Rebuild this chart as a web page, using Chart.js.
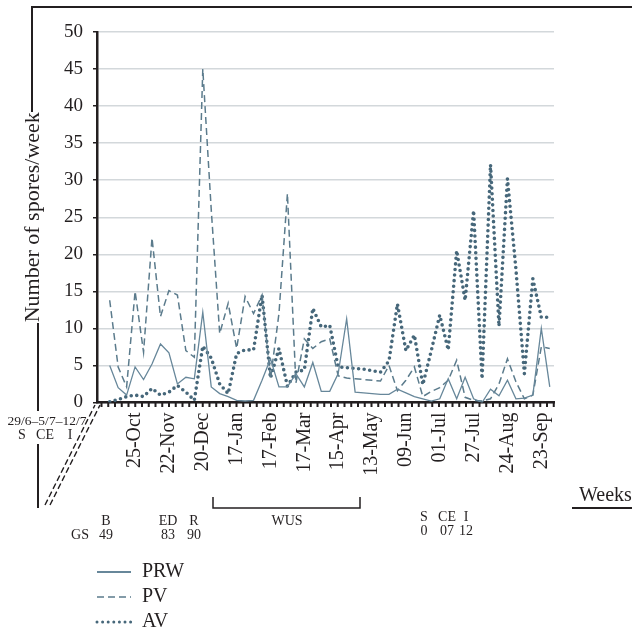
<!DOCTYPE html>
<html>
<head>
<meta charset="utf-8">
<script src="https://cdn.jsdelivr.net/npm/chart.js@4.4.1/dist/chart.umd.min.js"></script>
<style>
  html, body { margin: 0; padding: 0; background: #fff; }
</style>
</head>
<body>
<canvas id="sporesChart" width="632" height="633"></canvas>
<script>
// Weekly categories; the first one is the broken part of the axis (29/6-12/7), no data there
const weeks = [
  '', '', '', '', '25-Oct', '', '', '', '22-Nov', '', '', '', '20-Dec',
  '', '', '', '17-Jan', '', '', '', '17-Feb', '', '', '', '17-Mar',
  '', '', '', '15-Apr', '', '', '', '13-May', '', '', '', '09-Jun',
  '', '', '', '01-Jul', '', '', '', '27-Jul', '', '', '', '24-Aug',
  '', '', '', '23-Sep', ''
];

// Number of spores per week
const prw = [null,
  5.0, 2.0, 1.0, 4.8, 3.1, 5.2, 7.9, 6.7, 2.5, 3.4, 3.2, 12.2, 2.1, 1.2, 0.8, 0.3, 0.2, 0.3,
  3.0, 5.9, 2.1, 2.1, 3.9, 2.1, 5.4, 1.5, 1.5, 3.9, 11.3, 1.4, 1.3, 1.2, 1.1, 1.1, 1.8, 1.3,
  0.8, 0.5, 0.2, 0.5, 3.2, 0.5, 3.4, 0.5, 0.0, 1.8, 0.9, 3.0, 0.5, 0.6, 1.0, 10.0, 2.1];
const pv = [null,
  13.8, 4.8, 2.1, 15.0, 6.8, 22.2, 11.6, 15.1, 14.5, 7.0, 6.1, 45.0, 26.0, 9.3, 13.4, 7.3, 14.3, 12.0,
  14.5, 3.2, 12.0, 28.2, 2.6, 8.6, 7.3, 8.2, 8.6, 3.6, 3.3, 3.2, 3.1, 3.0, 2.9, 5.0, 1.6, 3.0,
  4.8, 0.8, 1.5, 2.0, 3.0, 5.7, 0.7, 0.3, 0.2, 0.5, 2.5, 5.9, 2.8, 0.5, 1.0, 7.5, 7.3];
const av = [null,
  0.1, 0.4, 0.8, 1.0, 0.8, 1.9, 1.0, 1.4, 2.3, 1.4, 0.3, 7.6, 6.0, 2.5, 1.2, 6.6, 7.1, 7.1,
  14.5, 3.3, 7.3, 2.2, 4.1, 4.4, 12.7, 10.2, 10.4, 4.8, 4.7, 4.6, 4.5, 4.3, 4.1, 5.6, 13.3, 7.0,
  9.1, 2.4, 7.0, 11.8, 7.1, 20.5, 13.8, 25.9, 3.2, 32.1, 10.3, 30.2, 18.0, 3.9, 16.7, 11.5, 11.5];

const ink = '#231f20';
const serif = "'Liberation Serif', 'Times New Roman', serif";

// notes under the axis: growth stages and phenology
function drawNotes(chart) {
  const ctx = chart.ctx;
  const a = chart.chartArea;
  ctx.save();
  ctx.strokeStyle = ink;
  ctx.fillStyle = ink;

  // ruler ticks on the x axis
  ctx.lineWidth = 2;
  ctx.beginPath();
  for (let x = a.left + 4.5; x <= a.right + 0.5; x += 6.75) {
    ctx.moveTo(x, a.bottom);
    ctx.lineTo(x, a.bottom + 4.5);
  }
  ctx.stroke();

  // frame at top / left
  ctx.lineWidth = 2;
  ctx.beginPath();
  ctx.moveTo(632, 7); ctx.lineTo(32, 7); ctx.lineTo(32, 112);
  ctx.moveTo(38, 323); ctx.lineTo(38, 411);
  ctx.moveTo(38, 444); ctx.lineTo(38, 508);
  ctx.stroke();

  // axis break
  ctx.lineWidth = 1.4;
  ctx.setLineDash([6, 3]);
  ctx.beginPath();
  ctx.moveTo(45, 505); ctx.lineTo(95, 405);
  ctx.moveTo(50, 505); ctx.lineTo(100, 405);
  ctx.stroke();
  ctx.setLineDash([]);

  ctx.textAlign = 'center';
  ctx.textBaseline = 'middle';
  ctx.font = '13.5px ' + serif;
  ctx.fillText('29/6\u20135/7\u201312/7', 47, 421);
  ctx.font = '14px ' + serif;
  ctx.fillText('S', 22, 435);
  ctx.fillText('CE', 45, 435);
  ctx.fillText('I', 70, 435);

  ctx.fillText('B', 106, 521);
  ctx.fillText('ED', 168, 521);
  ctx.fillText('R', 194, 521);
  ctx.fillText('WUS', 287, 521);
  ctx.fillText('GS', 80, 535);
  ctx.fillText('49', 106, 535);
  ctx.fillText('83', 168, 535);
  ctx.fillText('90', 194, 535);

  ctx.fillText('S', 424, 517);
  ctx.fillText('CE', 447, 517);
  ctx.fillText('I', 466, 517);
  ctx.fillText('0', 424, 531);
  ctx.fillText('07', 447, 531);
  ctx.fillText('12', 466, 531);

  // WUS bracket
  ctx.lineWidth = 1.5;
  ctx.beginPath();
  ctx.moveTo(213, 497); ctx.lineTo(213, 508); ctx.lineTo(360, 508); ctx.lineTo(360, 497);
  ctx.stroke();

  // axis name on the right
  ctx.textAlign = 'left';
  ctx.font = '20px ' + serif;
  ctx.fillText('Weeks', 579, 496);
  ctx.lineWidth = 2;
  ctx.beginPath();
  ctx.moveTo(572, 508); ctx.lineTo(632, 508);
  ctx.stroke();

  // legend, one row per series
  chart.data.datasets.forEach(function(ds, i) {
    const y = 572 + i * 25;
    ctx.strokeStyle = ds.borderColor;
    ctx.lineWidth = ds.legendWidth;
    ctx.lineCap = ds.borderCapStyle || 'butt';
    ctx.setLineDash(ds.borderDash || []);
    ctx.beginPath();
    ctx.moveTo(97, y); ctx.lineTo(131, y);
    ctx.stroke();
    ctx.setLineDash([]);
    ctx.fillStyle = ink;
    ctx.font = '20px ' + serif;
    ctx.fillText(ds.label, 142, y);
  });
  ctx.restore();
}

const chart = new Chart(document.getElementById('sporesChart'), {
  type: 'line',
  data: {
    labels: weeks,
    datasets: [{
      label: 'PRW',
      data: prw,
      borderColor: '#67879a',
      borderWidth: 1.3,
      legendWidth: 2,
      pointRadius: 0,
      tension: 0
    }, {
      label: 'PV',
      data: pv,
      borderColor: '#5b7b8c',
      borderWidth: 1.5,
      legendWidth: 1.5,
      borderDash: [7, 4],
      pointRadius: 0,
      tension: 0
    }, {
      label: 'AV',
      data: av,
      borderColor: '#46677a',
      borderWidth: 3.6,
      legendWidth: 3,
      borderDash: [0, 5.6],
      borderCapStyle: 'round',
      pointRadius: 0,
      tension: 0
    }]
  },
  options: {
    responsive: false,
    animation: false,
    devicePixelRatio: 1,
    layout: { padding: { top: 32, right: 78, left: 0, bottom: 0 } },
    plugins: {
      legend: { display: false },
      tooltip: { enabled: false }
    },
    scales: {
      x: {
        offset: true,
        grid: { display: true, drawOnChartArea: false, color: 'rgba(0,0,0,0)', tickLength: 4 },
        border: { color: ink, width: 2.5 },
        ticks: {
          autoSkip: false,
          maxRotation: 90,
          minRotation: 90,
          padding: 6,
          color: ink,
          font: { family: serif, size: 20 }
        },
        afterFit: function(scale) { scale.height = 230.5; }
      },
      y: {
        min: 0,
        max: 50,
        grid: { color: '#d3d8db', lineWidth: 1.5, tickColor: ink, tickLength: 4 },
        border: { color: ink, width: 2.5 },
        ticks: {
          stepSize: 5,
          padding: 10,
          color: ink,
          font: { family: serif, size: 19 }
        },
        title: {
          display: true,
          text: 'Number of spores/week',
          color: ink,
          font: { family: serif, size: 22 },
          padding: { top: 20, bottom: 0 }
        },
        afterFit: function(scale) { scale.width = 97; }
      }
    }
  },
  plugins: [{ id: 'notes', afterDraw: drawNotes }]
});
</script>
</body>
</html>
